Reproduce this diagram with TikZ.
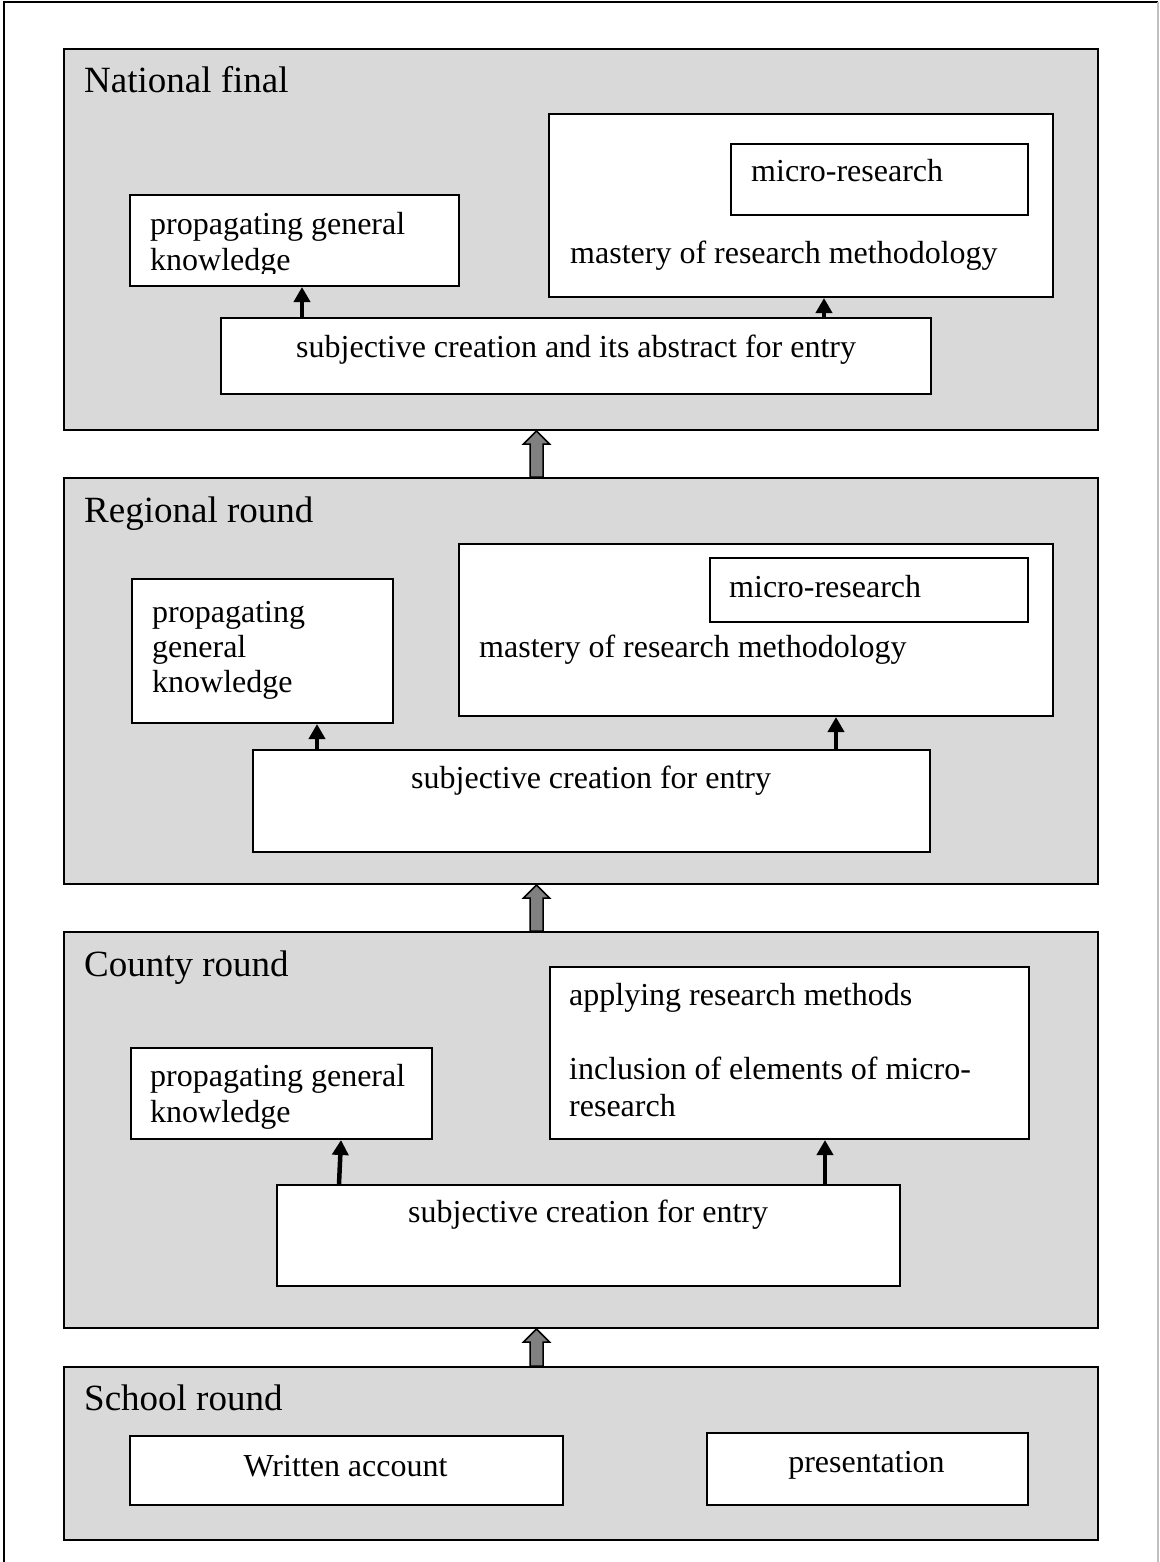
\documentclass[tikz,border=0pt]{standalone}
\usepackage{fontspec}
\setmainfont{Liberation Serif}
\usetikzlibrary{arrows.meta,calc}
\definecolor{panelgray}{HTML}{D9D9D9}
\definecolor{arrowgray}{HTML}{808080}
% block arrow between two stage panels: #1 tip, #2 base
\newcommand\levelarrow[2]{%
  \filldraw[bigarrow] ($(#2)+(-6.5,0)$) -- ($(#1)+(-6.5,13)$) -- ($(#1)+(-13,13)$)
    -- (#1) -- ($(#1)+(13,13)$) -- ($(#1)+(6.5,13)$) -- ($(#2)+(6.5,0)$) -- cycle;}
\begin{document}
\begin{tikzpicture}[x=1pt,y=-1pt,
  panel/.style={draw=black, line width=2pt, fill=panelgray, rectangle, anchor=north west, inner sep=0pt},
  wbox/.style={draw=black, line width=2pt, fill=white, rectangle, anchor=north west, inner sep=0pt},
  title/.style={anchor=base west, inner sep=0pt, font=\fontsize{37}{44}\selectfont},
  txt/.style={anchor=base west, inner sep=0pt, font=\fontsize{32}{38}\selectfont},
  ctxt/.style={anchor=base, inner sep=0pt, font=\fontsize{32}{38}\selectfont},
  link/.style={line width=4.5pt, -{Triangle[width=16pt,length=15pt]}},
  bigarrow/.style={fill=arrowgray, draw=black, line width=1.5pt, line join=miter},
]
\useasboundingbox (0,0) rectangle (1159,1562);

% page frame
\draw[line width=2.5pt] (4,1562) -- (4,2) -- (1158,2);
\draw[black!25, line width=1.5pt] (1158,2) -- (1158,1562);

% stage panels
\node[panel, minimum width=1034pt, minimum height=381pt] (natpanel) at (63,48) {};
\node[panel, minimum width=1034pt, minimum height=406pt] (regpanel) at (63,477) {};
\node[panel, minimum width=1034pt, minimum height=396pt] (coupanel) at (63,931) {};
\node[panel, minimum width=1034pt, minimum height=173pt] (schpanel) at (63,1366) {};

% arrows from one stage to the next
\coordinate (a1tip) at (natpanel.south -| 536.5,0);
\coordinate (a1base) at (regpanel.north -| 536.5,0);
\coordinate (a2tip) at (regpanel.south -| 536.5,0);
\coordinate (a2base) at (coupanel.north -| 536.5,0);
\coordinate (a3tip) at (coupanel.south -| 536.5,0);
\coordinate (a3base) at (schpanel.north -| 536.5,0);
\levelarrow{a1tip}{a1base}
\levelarrow{a2tip}{a2base}
\levelarrow{a3tip}{a3base}

% ---------- National final ----------
\node[title] (nattitle) at (84,93) {National final};
\node[wbox, minimum width=329pt, minimum height=91pt] (natprop) at (129,194) {};
\node[txt] (natprop1) at (150,235) {propagating general};
\begin{scope}
  \clip (129,194) rectangle (458,273);
  \node[txt] (natprop2) at (150,270) {knowledge};
\end{scope}
\node[wbox, minimum width=504pt, minimum height=183pt] (natmast) at (548,113) {};
\node[wbox, minimum width=297pt, minimum height=71pt] (natmicro) at (730,143) {};
\node[txt] (natmicrot) at (751,182) {micro-research};
\node[txt] (natmastt) at (570,263) {mastery of research methodology};
\node[wbox, minimum width=710pt, minimum height=76pt] (natsub) at (220,317) {};
\node[txt] (natsubt) at (296,357) {subjective creation and its abstract for entry};
\draw[link] (natsub.north -| 302,0) -- (natprop.south -| 302,0);
\draw[link] (natsub.north -| 824,0) -- (natmast.south -| 824,0);

% ---------- Regional round ----------
\node[title] (regtitle) at (84,522) {Regional round};
\node[wbox, minimum width=261pt, minimum height=144pt] (regprop) at (131,578) {};
\node[txt] (regprop1) at (152,622) {propagating};
\node[txt] (regprop2) at (152,657) {general};
\node[txt] (regprop3) at (152,692) {knowledge};
\node[wbox, minimum width=594pt, minimum height=172pt] (regmast) at (458,543) {};
\node[wbox, minimum width=318pt, minimum height=64pt] (regmicro) at (709,557) {};
\node[txt] (regmicrot) at (729,597) {micro-research};
\node[txt] (regmastt) at (479,657) {mastery of research methodology};
\node[wbox, minimum width=677pt, minimum height=102pt] (regsub) at (252,749) {};
\node[txt] (regsubt) at (411,788) {subjective creation for entry};
\draw[link] (regsub.north -| 317,0) -- (regprop.south -| 317,0);
\draw[link] (regsub.north -| 836,0) -- (regmast.south -| 836,0);

% ---------- County round ----------
\node[title] (coutitle) at (84,976) {County round};
\node[wbox, minimum width=301pt, minimum height=91pt] (couprop) at (130,1047) {};
\node[txt] (couprop1) at (150,1086) {propagating general};
\begin{scope}
  \clip (130,1047) rectangle (431,1128);
  \node[txt] (couprop2) at (150,1122) {knowledge};
\end{scope}
\node[wbox, minimum width=479pt, minimum height=172pt] (couapply) at (549,966) {};
\node[txt] (couapply1) at (569,1005) {applying research methods};
\node[txt] (couapply2) at (569,1079) {inclusion of elements of micro-};
\node[txt] (couapply3) at (569,1116) {research};
\node[wbox, minimum width=623pt, minimum height=101pt] (cousub) at (276,1184) {};
\node[txt] (cousubt) at (408,1222) {subjective creation for entry};
\draw[link] (cousub.north -| 339,0) -- (couprop.south -| 341,0);
\draw[link] (cousub.north -| 825,0) -- (couapply.south -| 825,0);

% ---------- School round ----------
\node[title] (schtitle) at (84,1410) {School round};
\node[wbox, minimum width=433pt, minimum height=69pt] (schwritten) at (129,1435) {};
\node[ctxt] (schwrittent) at (345.5,1476) {Written account};
\node[wbox, minimum width=321pt, minimum height=72pt] (schpres) at (706,1432) {};
\node[ctxt] (schprest) at (866.5,1472) {presentation};
\end{tikzpicture}
\end{document}
